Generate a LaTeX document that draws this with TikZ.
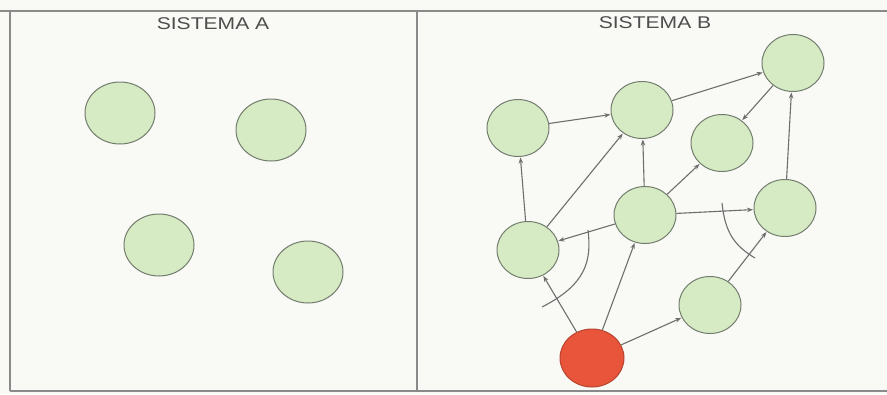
\documentclass[tikz,border=0pt]{standalone}
\usepackage{fontspec}
\setmainfont{Liberation Sans}
\usetikzlibrary{shapes.geometric,arrows.meta}
\definecolor{paper}{HTML}{F9F9F6}
\definecolor{frame}{HTML}{8A8A8A}
\definecolor{ballgreen}{HTML}{D6EAC4}
\definecolor{balledge}{HTML}{737D6E}
\definecolor{ballred}{HTML}{E8553A}
\definecolor{rededge}{HTML}{B8442E}
\definecolor{link}{HTML}{6E6E6E}
\definecolor{titlegray}{HTML}{4E4E4E}
\tikzset{
  framestyle/.style={draw=frame, line width=1.3pt},
  bigball/.style={ellipse, draw=balledge, line width=1pt, fill=ballgreen,
    minimum width=70pt, minimum height=62pt, inner sep=0pt},
  ball/.style={ellipse, draw=balledge, line width=1pt, fill=ballgreen,
    minimum width=62pt, minimum height=57pt, inner sep=0pt},
  redball/.style={ellipse, draw=rededge, line width=1pt, fill=ballred,
    minimum width=64pt, minimum height=58pt, inner sep=0pt},
  link/.style={draw=link, line width=1.1pt,
    -{Stealth[length=6pt,width=4.5pt]}, shorten >=0.5pt},
  stroke/.style={draw=link, line width=1.1pt},
  title/.style={text=titlegray, font=\fontsize{17}{19}\selectfont, xscale=1.24}
}
\begin{document}
\begin{tikzpicture}[x=1pt,y=-1pt]
\useasboundingbox (0,0) rectangle (887,394);
\fill[paper] (0,0) rectangle (887,394);
% frame
\draw[framestyle] (0,11) -- (887,11);
\draw[framestyle] (10,11) -- (10,391);
\draw[framestyle] (417,11) -- (417,391);
\draw[framestyle] (10,391) -- (887,391);
% titles
\node[title] (ta) at (213,24) {SISTEMA A};
\node[title] (tb) at (655,23) {SISTEMA B};
% system A
\node[bigball] (a1) at (120,113) {};
\node[bigball] (a2) at (271,130) {};
\node[bigball] (a3) at (159,245) {};
\node[bigball] (a4) at (308,272) {};
% system B
\node[ball] (b1) at (518,128) {};
\node[ball] (b2) at (642,110) {};
\node[ball] (b3) at (793,63) {};
\node[ball] (b4) at (722,143) {};
\node[ball] (b5) at (528,250) {};
\node[ball] (b6) at (645,215) {};
\node[ball] (b7) at (785,208) {};
\node[ball] (b8) at (710,305) {};
\node[redball] (r) at (592,358) {};
% connectors
\draw[link] (b1) -- (b2);
\draw[link] (b2) -- (b3);
\draw[link] (b3) -- (b4);
\draw[link] (b7) -- (b3);
\draw[link] (b5) -- (b1);
\draw[link] (b5) -- (b2);
\draw[link] (b6) -- (b2);
\draw[link] (b6) -- (b4);
\draw[link] (b6) -- (b5);
\draw[link] (b6) -- (b7);
\draw[link] (r) -- (b5);
\draw[link] (r) -- (b6);
\draw[link] (r) -- (b8);
\draw[link] (b8) -- (b7);
% crossing strokes
\draw[stroke] (542,307) .. controls (585,285) and (592,262) .. (588,230);
\draw[stroke] (722,203) .. controls (725,233) and (735,246) .. (755,258);
\end{tikzpicture}
\end{document}
